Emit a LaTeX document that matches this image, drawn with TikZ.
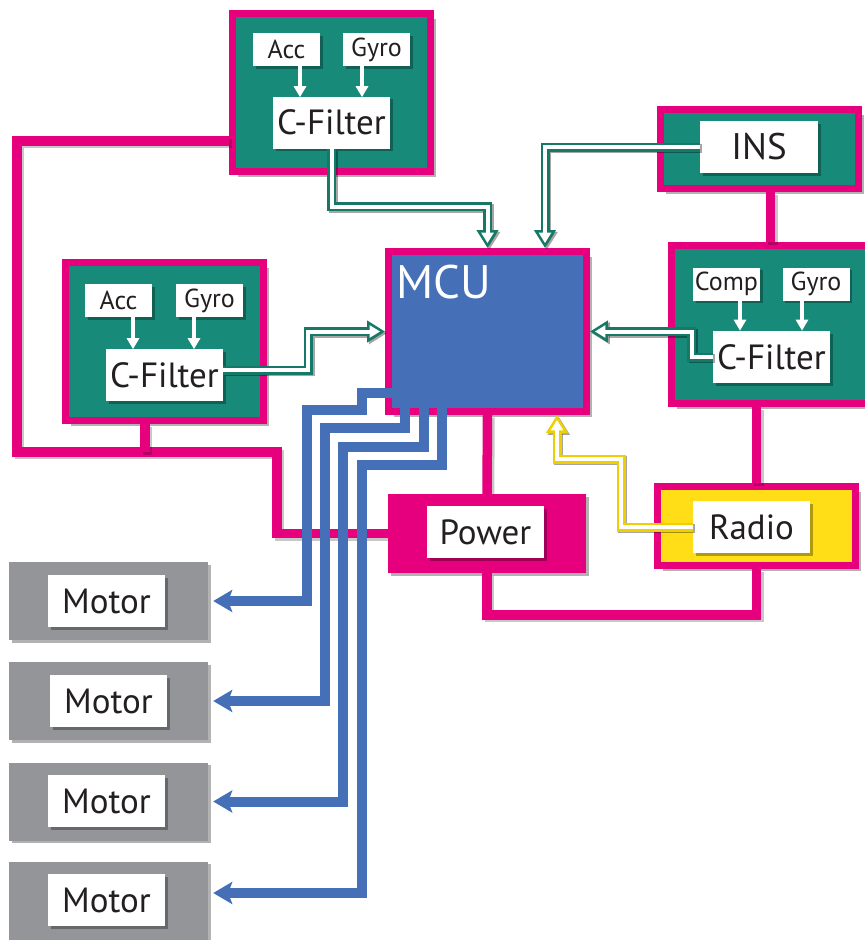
\documentclass[tikz,border=0pt]{standalone}
\usepackage{fontspec}
\setmainfont{PT Sans}
\usetikzlibrary{arrows.meta,shadows}
\definecolor{mg}{HTML}{E6007E}
\definecolor{tl}{HTML}{178A7A}
\definecolor{tlo}{HTML}{167867}
\definecolor{mcub}{HTML}{4570B8}
\definecolor{gr}{HTML}{939598}
\definecolor{yl}{HTML}{FFDD17}
\definecolor{ylo}{HTML}{EFCF00}
\definecolor{txt}{HTML}{231F20}
\newcommand\hconn[2]{%
  \begin{scope}[transform canvas={shift={(1.8pt,-1.8pt)}}]
  \draw[draw=black,opacity=0.35,line width=9pt,line join=miter,-{Triangle[length=18pt,width=21pt]}] #2;
  \end{scope}
  \draw[draw=#1,line width=9pt,line join=miter,-{Triangle[length=18pt,width=21pt]}] #2;
  \draw[draw=white,line width=4pt,line join=miter,-{Triangle[length=10.5pt,width=12pt]},shorten >=4.9pt] #2;}
\tikzset{
  shd/.style={drop shadow={shadow xshift=2.5pt,shadow yshift=-2.5pt,opacity=0.3,fill=black}},
  shdb/.style={drop shadow={shadow xshift=5.5pt,shadow yshift=-5.5pt,opacity=0.3,fill=black}},
  obox/.style={draw=mg,line width=7pt,fill=tl,minimum width=198pt,minimum height=158pt,inner sep=0pt,shdb},
  lbl/.style={fill=white,inner sep=0pt,text=txt,shd},
  smalllbl/.style={lbl,minimum width=67pt,minimum height=33pt,font=\fontsize{26pt}{26pt}\selectfont},
  biglbl/.style={lbl,minimum width=117pt,minimum height=52pt,font=\fontsize{35pt}{35pt}\selectfont},
  mline/.style={draw=mg,line width=9.5pt,line join=miter,
    preaction={draw=black,opacity=0.22,line width=9.5pt,transform canvas={shift={(2.5pt,-2.5pt)}}}},
  bline/.style={draw=mcub,line width=10pt,line join=miter,-{Stealth[length=19pt,width=22pt,inset=4pt]}},
  warr/.style={draw=white,line width=3.5pt,-{Triangle[length=11pt,width=12pt]}},
  motorbox/.style={fill=gr,minimum width=199pt,minimum height=78pt,inner sep=0pt,shd},
}
\begin{document}
\begin{tikzpicture}[x=1pt,y=-1pt]
\useasboundingbox (0,0) rectangle (865,940);
\clip (0,0) rectangle (865,940);

% boxes
\node[obox] (topbox) at (331.5,92.5) {};
\node[obox] (leftbox) at (164.5,341.5) {};
\node[obox] (rbox) at (770.5,324.5) {};
\node[obox,minimum height=79pt] (insbox) at (759.5,149) {};
\node[draw=mg,line width=7pt,fill=mcub,minimum width=198pt,minimum height=160pt,inner sep=0pt,shdb] (mcu) at (487.5,331.5) {};
\node[fill=mg,minimum width=198pt,minimum height=79pt,inner sep=0pt,shd] (powerbox) at (487,533.5) {};
\node[draw=mg,line width=7pt,fill=yl,minimum width=198pt,minimum height=79pt,inner sep=0pt,shdb] (radiobox) at (756.5,526) {};

% magenta power/bus lines
\draw[mline] ([yshift=-48.5pt]topbox.west) -| (17,452) -- (277,452) |- (powerbox.west);
\draw[mline] ([xshift=-19.5pt]leftbox.south) -- ++(0,28);
\draw[mline] (mcu.south) -- (powerbox.north);
\draw[mline] (powerbox.south) -- ++(0,42) -| (radiobox.south);
\draw[mline] (insbox.south -| rbox.north) -- (rbox.north);
\draw[mline] (radiobox.north) -- (radiobox.north |- rbox.south);

% redraw boxes over line ends
\node[draw=mg,line width=7pt,fill=mcub,minimum width=198pt,minimum height=160pt,inner sep=0pt] at (mcu) {};
\node[fill=mg,minimum width=198pt,minimum height=79pt,inner sep=0pt] at (powerbox) {};

\node[anchor=base west,text=white,inner sep=0pt,font=\fontsize{47pt}{47pt}\selectfont] (mcut) at (396,298) {MCU};

% motors
\node[motorbox] (m1) at (108.5,601) {};
\node[motorbox] (m2) at (108.5,701) {};
\node[motorbox] (m3) at (108.5,801.5) {};
\node[motorbox] (m4) at (108.5,900.5) {};
\node[biglbl] (m1t) at (106.5,601) {Motor};
\node[biglbl] (m2t) at (108.5,701) {Motor};
\node[biglbl] (m3t) at (106.5,801) {Motor};
\node[biglbl] (m4t) at (106.5,900) {Motor};

% labels in top box
\node[smalllbl] (acc1) at (286.5,49.5) {Acc};
\node[smalllbl] (gyr1) at (376.5,49.5) {Gyro};
\node[biglbl] (cf1) at (331.5,122.5) {C-Filter};
% labels in left box
\node[smalllbl] (acc2) at (118.5,300.5) {Acc};
\node[smalllbl] (gyr2) at (209.5,300.5) {Gyro};
\node[biglbl] (cf2) at (164.5,375) {C-Filter};
% labels in right box
\node[smalllbl] (cmp3) at (726.5,284) {Comp};
\node[smalllbl] (gyr3) at (816,284) {Gyro};
\node[biglbl] (cf3) at (771.5,357) {C-Filter};
% INS, power, radio labels
\node[biglbl,minimum width=118pt,font=\fontsize{37pt}{37pt}\selectfont] (inst) at (759,147) {INS};
\node[biglbl] (powert) at (485.5,532) {Power};
\node[biglbl] (radiot) at (751.5,527) {Radio};

% small sensor arrows
\draw[warr] ([xshift=13.5pt]acc1.south) -- ++(0,31);
\draw[warr] ([xshift=-14.5pt]gyr1.south) -- ++(0,31);
\draw[warr] ([xshift=14.5pt]acc2.south) -- ++(0,32);
\draw[warr] ([xshift=-15.5pt]gyr2.south) -- ++(0,32);
\draw[warr] ([xshift=13.5pt]cmp3.south) -- ++(0,30);
\draw[warr] ([xshift=-14pt]gyr3.south) -- ++(0,30);

% data connectors into MCU
\hconn{tlo}{(cf1.south) -- ++(0,58) -| (mcu.north)}
\hconn{tlo}{(inst.west) -| ([xshift=57.5pt]mcu.north)}
\hconn{tlo}{([yshift=5pt]cf2.east) -- ++(85,0) |- (mcu.west)}
\hconn{tlo}{(cf3.west) -- ++(-21,0) |- (mcu.east)}
\hconn{ylo}{(radiot.west) -| (621,459) -| ([xshift=69.5pt]mcu.south)}

% motor lines
\draw[bline] ([xshift=10pt,yshift=-61.5pt]mcu.west) -- (362,393) |- (307,410) |- ([xshift=5pt]m1.east);
\draw[bline] ([xshift=-82.5pt,yshift=8pt]mcu.south) |- (325,428) |- ([xshift=5pt]m2.east);
\draw[bline] ([xshift=-63.5pt,yshift=8pt]mcu.south) |- (343,447) |- ([xshift=5pt]m3.east);
\draw[bline] ([xshift=-45.5pt,yshift=8pt]mcu.south) |- (362,465) |- ([xshift=5pt,yshift=7.5pt]m4.east);
\end{tikzpicture}
\end{document}
